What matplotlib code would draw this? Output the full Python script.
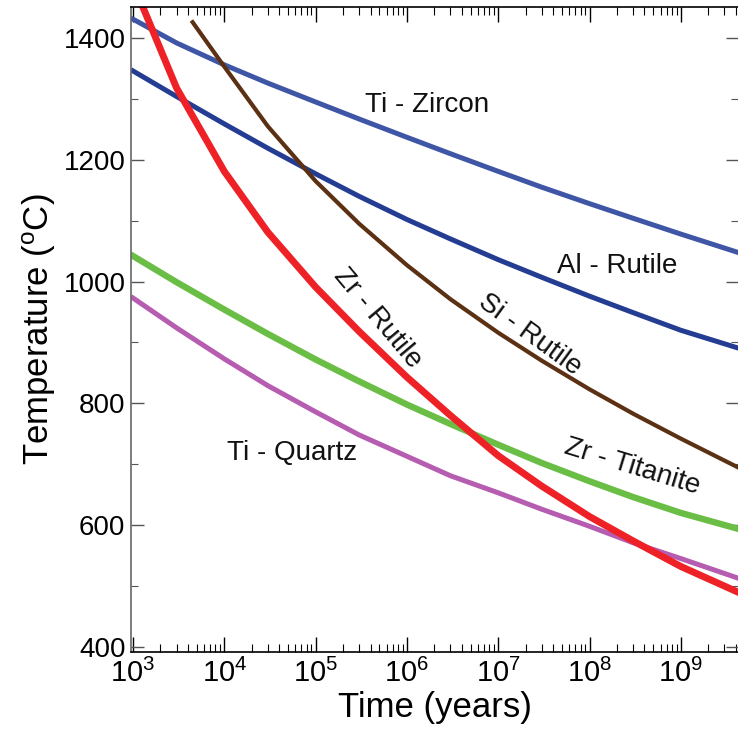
import numpy as np
import matplotlib
matplotlib.use("Agg")
import matplotlib.pyplot as plt
from matplotlib.ticker import LogLocator, MultipleLocator, FixedLocator

plt.rcParams['font.family'] = ['Liberation Sans', 'DejaVu Sans']
plt.rcParams['mathtext.fontset'] = 'custom'
plt.rcParams['mathtext.rm'] = 'Liberation Sans'
plt.rcParams['mathtext.it'] = 'Liberation Sans:italic'

# ---- data (time in years, temperature in deg C) ----
times = [1e3, 3e3, 1e4, 3e4, 1e5, 3e5, 1e6, 3e6, 1e7, 3e7, 1e8, 3e8, 1e9, 4.2e9]

ti_zircon   = [1431, 1392, 1356, 1326, 1295, 1267, 1237, 1210, 1181, 1155, 1128, 1104, 1078, 1048]
al_rutile   = [1346, 1304, 1259, 1219, 1177, 1140, 1102, 1070, 1036, 1007, 976, 949, 920, 891]
zr_rutile   = [1490, 1318, 1181, 1081, 991, 918, 843, 780, 714, 664, 614, 574, 532, 490]
zr_titanite = [1042, 999, 954, 914, 872, 836, 798, 766, 732, 702, 672, 646, 620, 594]
ti_quartz   = [973, 924, 873, 829, 786, 748, 713, 681, 653, 626, 598, 571, 545, 513]

si_times  = [4.5e3, 1e4, 3e4, 1e5, 3e5, 1e6, 3e6, 1e7, 3e7, 1e8, 3e8, 1e9, 4.2e9]
si_rutile = [1426, 1353, 1255, 1165, 1095, 1027, 971, 916, 870, 823, 783, 742, 695]

xticks = [1e3, 1e4, 1e5, 1e6, 1e7, 1e8, 1e9]
xticklabels = [r'$\mathregular{10^{%d}}$' % e for e in range(3, 10)]
yticks = [400, 600, 800, 1000, 1200, 1400]

fig = plt.figure(figsize=(7.38, 7.34), dpi=100)
ax = fig.add_axes([131/738, 82/734, 607/738, 645/734])

ax.plot(times, ti_zircon, color='#3f56a6', lw=3.6)
ax.plot(times, al_rutile, color='#243d93', lw=3.6)
ax.plot(si_times, si_rutile, color='#5b3013', lw=3.0)
ax.plot(times, zr_titanite, color='#6abd45', lw=4.6)
ax.plot(times, ti_quartz, color='#b65cb1', lw=3.6)
ax.plot(times, zr_rutile, color='#ee2226', lw=5.0)

ax.set_xscale('log')
ax.set_xlim(951, 4.23e9)
ax.set_ylim(391.5, 1451)

ax.xaxis.set_major_locator(FixedLocator(xticks))
ax.set_xticklabels(xticklabels)
ax.xaxis.set_minor_locator(LogLocator(base=10, subs=np.arange(2, 10), numticks=20))
ax.set_yticks(yticks)
ax.yaxis.set_minor_locator(MultipleLocator(100))

ax.tick_params(axis='x', which='major', direction='in', length=11, width=1,
               top=True, bottom=True, labelsize=21, pad=5)
ax.tick_params(axis='x', which='minor', direction='in', length=6, width=0.8,
               top=True, bottom=True)
ax.tick_params(axis='y', which='major', direction='in', length=9, width=1,
               left=True, right=True, labelsize=20, pad=4, color='#555555')
ax.tick_params(axis='y', which='minor', direction='in', length=5, width=0.8,
               left=True, right=True, color='#555555')

ax.spines['right'].set_visible(False)
ax.spines['left'].set_color('#666666')
ax.spines['left'].set_linewidth(1.2)
ax.spines['top'].set_linewidth(1.2)
ax.spines['bottom'].set_linewidth(1.2)

ax.set_xlabel('Time (years)', fontsize=25, labelpad=2)
ax.set_ylabel(r'Temperature ($\mathregular{^{o}}$C)', fontsize=25, labelpad=4)

lbl = dict(fontsize=20, ha='center', va='center', color='#111111')
ax.text(1.66e6, 1290, 'Ti - Zircon', **lbl)
ax.text(2.0e8, 1026, 'Al - Rutile', **lbl)
ax.text(2.2e7, 912, 'Si - Rutile', rotation=-36, rotation_mode='anchor', **lbl)
ax.text(4.8e5, 940, 'Zr - Rutile', rotation=-50, rotation_mode='anchor', **lbl)
ax.text(2.9e8, 695, 'Zr - Titanite', rotation=-17, rotation_mode='anchor', **lbl)
ax.text(5.5e4, 719, 'Ti - Quartz', **lbl)

fig.savefig('out.png', dpi=100)
